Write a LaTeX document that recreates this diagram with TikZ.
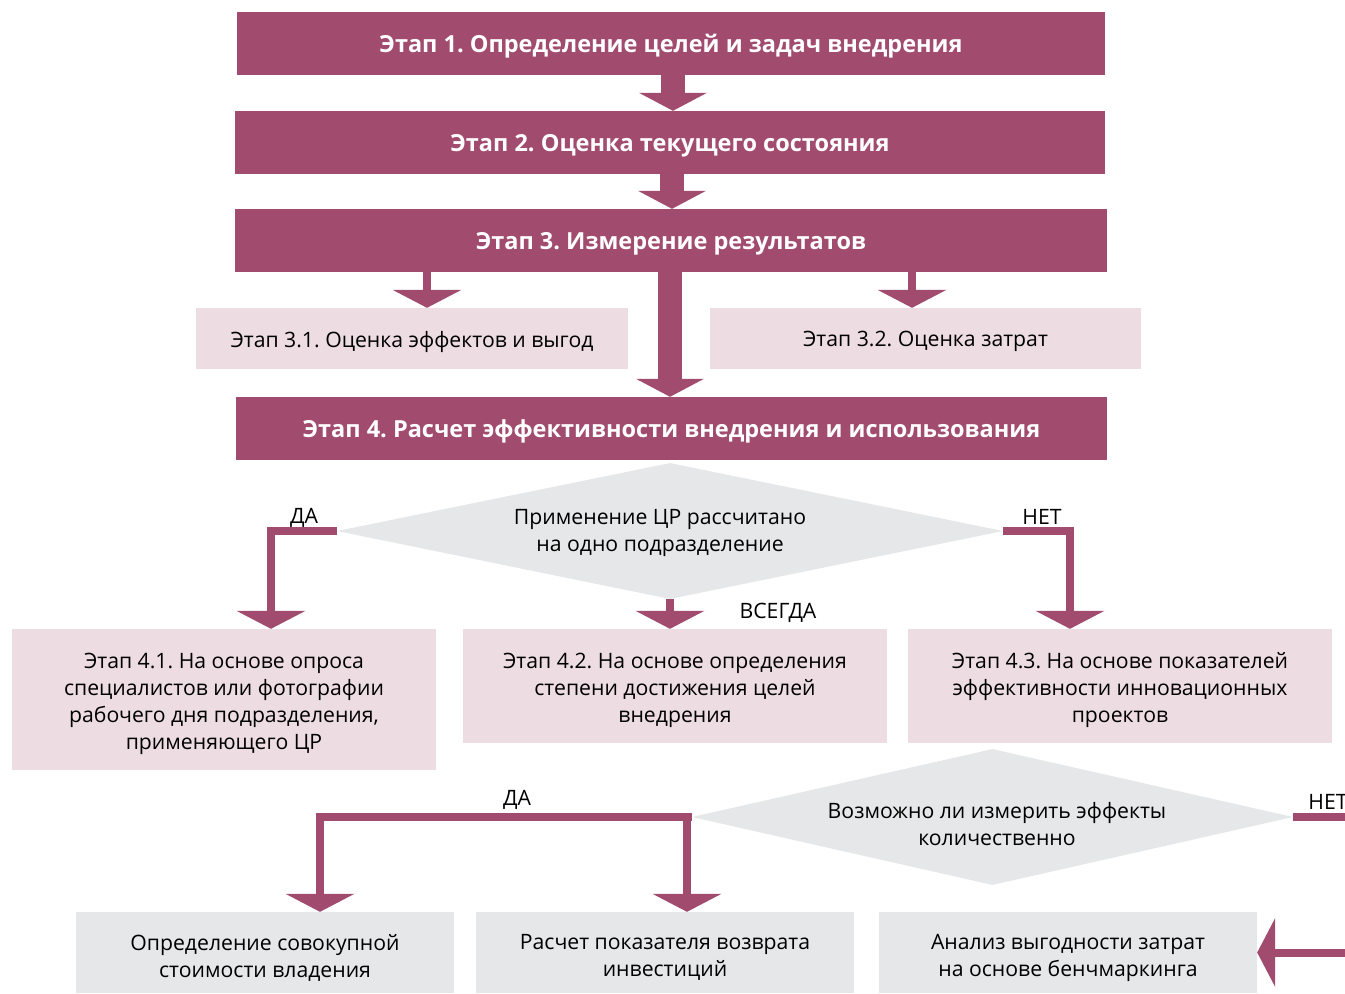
\documentclass[tikz,border=0pt]{standalone}
\usepackage{fontspec}
\setmainfont{Open Sans}
\usetikzlibrary{arrows.meta,shapes.geometric,calc}
\definecolor{berry}{RGB}{161,75,111}
\definecolor{pinkbg}{RGB}{237,221,227}
\definecolor{graybg}{RGB}{230,231,232}
\begin{document}
\frenchspacing
\begin{tikzpicture}[x=1pt,y=-1pt,
  stage/.style={fill=berry, minimum height=63pt, inner sep=0pt},
  stagetext/.style={text=white, font=\fontsize{23.5}{27}\selectfont\bfseries, inner sep=0pt, align=center},
  pinkbox/.style={fill=pinkbg, inner sep=0pt},
  graybox/.style={fill=graybg, minimum width=378pt, minimum height=81pt, inner sep=0pt},
  body/.style={text=black, font=\fontsize{21.2}{27}\selectfont, inner sep=0pt, align=center},
  decision/.style={diamond, fill=graybg, shape aspect=4.9, inner sep=0pt},
  lbl/.style={font=\fontsize{21.2}{24}\selectfont, inner sep=0pt},
  bigarrow/.style={draw=berry, line width=24pt, -{Triangle[width=68pt,length=18pt,line width=0pt]}},
  thinarrow/.style={draw=berry, line width=8pt, line join=miter, -{Triangle[width=69pt,length=18pt,line width=0pt]}}
]
\useasboundingbox (0,0) rectangle (1345,994);
\clip (0,0) rectangle (1345,994);
\fill[white] (0,0) rectangle (1345,994);

% stages
\node[stage, minimum width=868pt] (s1) at (671,43.5) {};
\node[stagetext] (s1t) at ([yshift=-3pt]s1.center) {Этап 1. Определение целей и задач внедрения};
\node[stage, minimum width=870pt] (s2) at (670,142.5) {};
\node[stagetext] (s2t) at ([yshift=-3pt]s2.center) {Этап 2. Оценка текущего состояния};
\node[stage, minimum width=872pt] (s3) at (671,240.5) {};
\node[stagetext] (s3t) at ([yshift=-3pt]s3.center) {Этап 3. Измерение результатов};
\node[pinkbox, minimum width=432pt, minimum height=61pt] (s31) at (412,338.5) {};
\node[body] (s31t) at ([yshift=-3pt]s31.center) {Этап 3.1. Оценка эффектов и выгод};
\node[pinkbox, minimum width=431pt, minimum height=61pt] (s32) at (925.5,338.5) {};
\node[body] (s32t) at ([yshift=-3pt]s32.center) {Этап 3.2. Оценка затрат};
\node[stage, minimum width=871pt] (s4) at (671.5,428.5) {};
\node[stagetext] (s4t) at ([yshift=-3pt]s4.center) {Этап 4. Расчет эффективности внедрения и использования};

% first decision
\node[decision, minimum width=666pt, minimum height=136pt] (d1) at (670,531) {};
\node[body] (d1t) at (660,533) {Применение ЦР рассчитано\\на одно подразделение};

% stage 4 variants
\node[pinkbox, minimum width=424pt, minimum height=141pt] (b41) at (224,699.5) {};
\node[body] (b41t) at ([yshift=-4pt]b41.center) {Этап 4.1. На основе опроса\\специалистов или фотографии\\рабочего дня подразделения,\\применяющего ЦР};
\node[pinkbox, minimum width=424pt, minimum height=114pt] (b42) at (675,686) {};
\node[body] (b42t) at ([yshift=-4pt]b42.center) {Этап 4.2. На основе определения\\степени достижения целей\\внедрения};
\node[pinkbox, minimum width=424pt, minimum height=114pt] (b43) at (1120,686) {};
\node[body] (b43t) at ([yshift=-4pt]b43.center) {Этап 4.3. На основе показателей\\эффективности инновационных\\проектов};

% second decision
\node[decision, minimum width=601pt, minimum height=136pt] (d2) at (992.5,817) {};
\node[body] (d2t) at (997,824) {Возможно ли измерить эффекты\\количественно};

% results
\node[graybox] (b1) at (265,952.5) {};
\node[body] (b1t) at ([yshift=-5pt]b1.center) {Определение совокупной\\стоимости владения};
\node[graybox] (b2) at (665,952.5) {};
\node[body] (b2t) at ([yshift=-5pt]b2.center) {Расчет показателя возврата\\инвестиций};
\node[graybox] (b3) at (1068,952.5) {};
\node[body] (b3t) at ([yshift=-5pt]b3.center) {Анализ выгодности затрат\\на основе бенчмаркинга};

\coordinate (offr) at (1380,0);

% connectors
\draw[bigarrow] ([xshift=2pt]s1.south) -- ([xshift=2pt]s1.south |- s2.north);
\draw[bigarrow] ([xshift=2pt]s2.south) -- ([xshift=2pt]s2.south |- s3.north);
\draw[bigarrow] ([xshift=-1pt]s3.south) -- ([xshift=-1pt]s3.south |- s4.north);
\draw[thinarrow] ([xshift=15pt]s31.north |- s3.south) -- ([xshift=15pt]s31.north);
\draw[thinarrow] ([xshift=-13.5pt]s32.north |- s3.south) -- ([xshift=-13.5pt]s32.north);

\draw[thinarrow] (d1.west) -| ([xshift=47pt]b41.north);
\draw[thinarrow] (d1.south) -- (d1.south |- b42.north);
\draw[thinarrow] (d1.east) -| ([xshift=-50pt]b43.north);

\draw[thinarrow] (d2.west) -| ([xshift=55pt]b1.north);
\draw[thinarrow] (d2.west) -| ([xshift=22pt]b2.north);
\draw[thinarrow] (d2.east) -- (offr |- d2.east) -- (offr |- b3.east) -- (b3.east);

% labels
\node[lbl] (l1) at (304,518) {ДА};
\node[lbl] (l2) at (1042,517) {НЕТ};
\node[lbl] (l3) at (778,613) {ВСЕГДА};
\node[lbl] (l4) at (517,800) {ДА};
\node[lbl] (l5) at (1328,802) {НЕТ};
\end{tikzpicture}
\end{document}
